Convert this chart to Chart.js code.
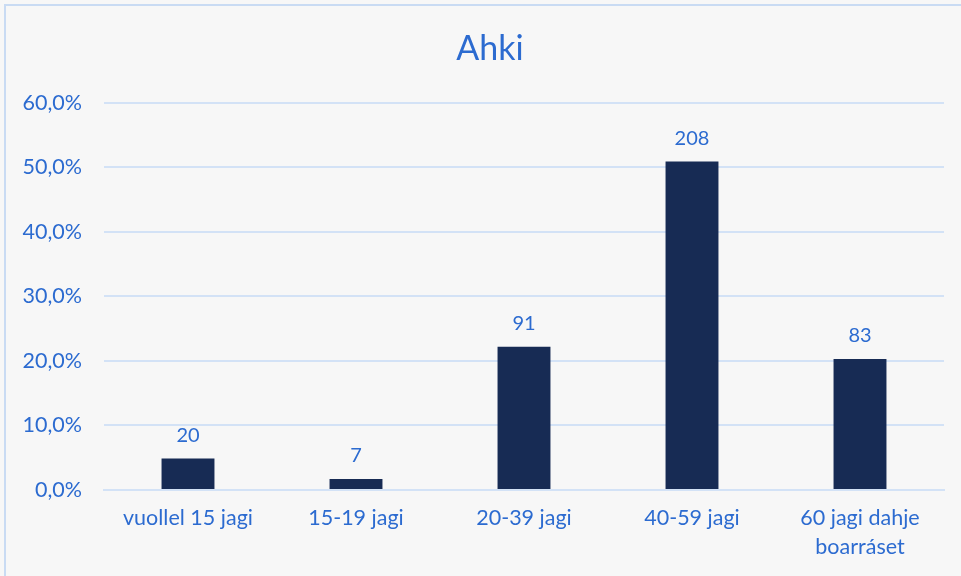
<!DOCTYPE html>
<html><head><meta charset="utf-8">
<script src="https://cdn.jsdelivr.net/npm/chart.js@4"></script>
<style>
html,body{margin:0;padding:0;background:#f7f7f7;}
#wrap{position:absolute;left:0;top:0;width:961px;height:576px;}
#frame{position:absolute;left:4px;top:4px;width:980px;height:600px;border-left:2px solid #c9dbf3;border-top:2px solid #c9dbf3;box-sizing:border-box;pointer-events:none;}
</style></head>
<body>
<div id="wrap"><canvas id="c" width="961" height="576"></canvas><div id="frame"></div></div>
<script>
const categories = ['vuollel 15 jagi', '15-19 jagi', '20-39 jagi', '40-59 jagi', ['60 jagi dahje', 'boarráset']];
const percentValues = [4.9, 1.7, 22.2, 50.9, 20.3];
const countLabels = ['20', '7', '91', '208', '83'];
const yTicks = [0, 10, 20, 30, 40, 50, 60];
const titleText = 'Ahki';

const textColor = '#2c6bd0';
const barColor = '#172b54';
const gridColor = '#d3e2f6';
const fontFam = "Lato, 'Open Sans', sans-serif";

const labelPlugin = {
  id: 'countLabels',
  afterDatasetsDraw(chart) {
    const ctx = chart.ctx;
    const meta = chart.getDatasetMeta(0);
    ctx.save();
    ctx.fillStyle = textColor;
    ctx.font = '20px ' + fontFam;
    ctx.textAlign = 'center';
    ctx.textBaseline = 'bottom';
    meta.data.forEach((bar, i) => {
      ctx.fillText(countLabels[i], bar.x, bar.y - 13);
    });
    ctx.restore();
  }
};

new Chart(document.getElementById('c'), {
  type: 'bar',
  data: {
    labels: categories,
    datasets: [{
      data: percentValues,
      backgroundColor: barColor,
      categoryPercentage: 1,
      barPercentage: 0.315
    }]
  },
  options: {
    responsive: false,
    animation: false,
    layout: { padding: { left: 19, right: 0, top: 0, bottom: 0 } },
    plugins: {
      legend: { display: false },
      tooltip: { enabled: false },
      title: {
        display: true,
        text: titleText,
        color: textColor,
        font: { family: fontFam, size: 34, weight: 'normal', lineHeight: 1.2 },
        padding: { top: 29, bottom: 33 }
      }
    },
    scales: {
      x: {
        grid: { display: false, drawTicks: false },
        border: { display: true, color: gridColor, width: 2 },
        ticks: {
          color: textColor,
          font: { family: fontFam, size: 21.5, lineHeight: 1.35 },
          padding: 14,
          maxRotation: 0,
          autoSkip: false
        },
        afterFit(scale) { scale.height = 86; }
      },
      y: {
        min: 0, max: 60,
        afterBuildTicks(scale) { scale.ticks = yTicks.map(v => ({ value: v })); },
        grid: { color: gridColor, lineWidth: 2, drawTicks: false },
        border: { display: false },
        ticks: {
          color: textColor,
          font: { family: fontFam, size: 21.5 },
          padding: 22,
          callback: v => v.toFixed(1).replace('.', ',') + '%'
        },
        afterFit(scale) { scale.width = 85; }
      },
      yRightSpacer: {
        position: 'right',
        min: 0, max: 60,
        grid: { display: false, drawTicks: false },
        border: { display: false },
        ticks: { display: false },
        afterFit(scale) { scale.width = 17; }
      }
    }
  },
  plugins: [labelPlugin]
});
</script>
</body></html>
